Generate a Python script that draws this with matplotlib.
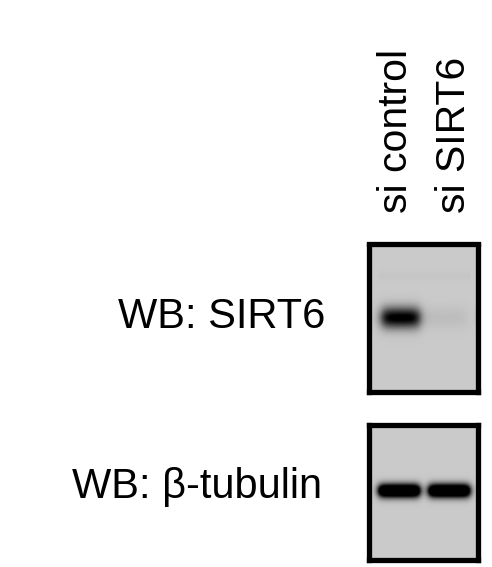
import numpy as np
import matplotlib
matplotlib.use("Agg")
import matplotlib.pyplot as plt

# ---- data ----
lanes = ["si control", "si SIRT6"]
blot_labels = ["WB: SIRT6", "WB: β-tubulin"]
sirt6_band = [1.05, 0.06]      # relative band intensity per lane
tubulin_band = [1.8, 1.8]      # saturated bands

FONT = ["Liberation Sans", "DejaVu Sans"]
W, H = 492, 567
fig = plt.figure(figsize=(W / 100, H / 100), dpi=100)
fig.patch.set_facecolor("white")


def fx(px):
    return px / W


def fy(py):
    return 1 - py / H


def add_blot(x0, x1, y0, y1, bands, lane_edges, band_y, sigma, s=2.0, extra=None):
    ax = fig.add_axes([fx(x0), fy(y1), fx(x1) - fx(x0), (y1 - y0) / H])
    xs = np.arange(x0, x1, 0.5)
    ys = np.arange(y0, y1, 0.5)
    X, Y = np.meshgrid(xs, ys)
    bg = 0.79
    dark = np.zeros_like(X)
    for inten, (a, b) in zip(bands, lane_edges):
        hx = 1 / (1 + np.exp(-(X - a) / s)) * 1 / (1 + np.exp((X - b) / s))
        vy = np.exp(-0.5 * ((Y - band_y) / sigma) ** 2)
        dark += inten * hx * vy
    if extra is not None:
        dark += extra(X, Y)
    img = np.clip(bg - dark * bg, 0, 1)
    ax.imshow(img, cmap="gray", vmin=0, vmax=1, extent=(x0, x1, y1, y0),
              aspect="auto", interpolation="bilinear")
    ax.set_xlim(x0, x1)
    ax.set_ylim(y1, y0)
    ax.set_xticks([])
    ax.set_yticks([])
    for sp in ax.spines.values():
        sp.set_linewidth(3.8)
        sp.set_color("black")
    return ax


def faint_sirt6(X, Y):
    line = 0.02 * np.exp(-0.5 * ((Y - 276) / 3.0) ** 2) * (X > 378) * (X < 470)
    smudge = 0.2 * np.exp(-0.5 * ((Y - 317) / 7.0) ** 2) * np.exp(-0.5 * ((X - 478) / 2.0) ** 2)
    return line + smudge


add_blot(368.5, 477.5, 244.5, 391.5, sirt6_band,
         [(381, 419), (426, 466)], 318, 7.5, s=2.8, extra=faint_sirt6)
add_blot(368.5, 477.5, 424.5, 559.5, tubulin_band,
         [(378, 419), (428, 469)], 491, 4.8, s=2.0)

# lane labels
for lab, bx in zip(lanes, [407, 465]):
    fig.text(fx(bx), fy(213), lab, rotation=90, rotation_mode="anchor",
             ha="left", va="baseline", fontsize=29.5, family=FONT, color="black")

# blot labels
for lab, (rx, by) in zip(blot_labels, [(325, 328), (322, 498)]):
    fig.text(fx(rx), fy(by), lab, ha="right", va="baseline",
             fontsize=30, family=FONT, color="black")

fig.savefig("out.png", dpi=100, facecolor="white")
